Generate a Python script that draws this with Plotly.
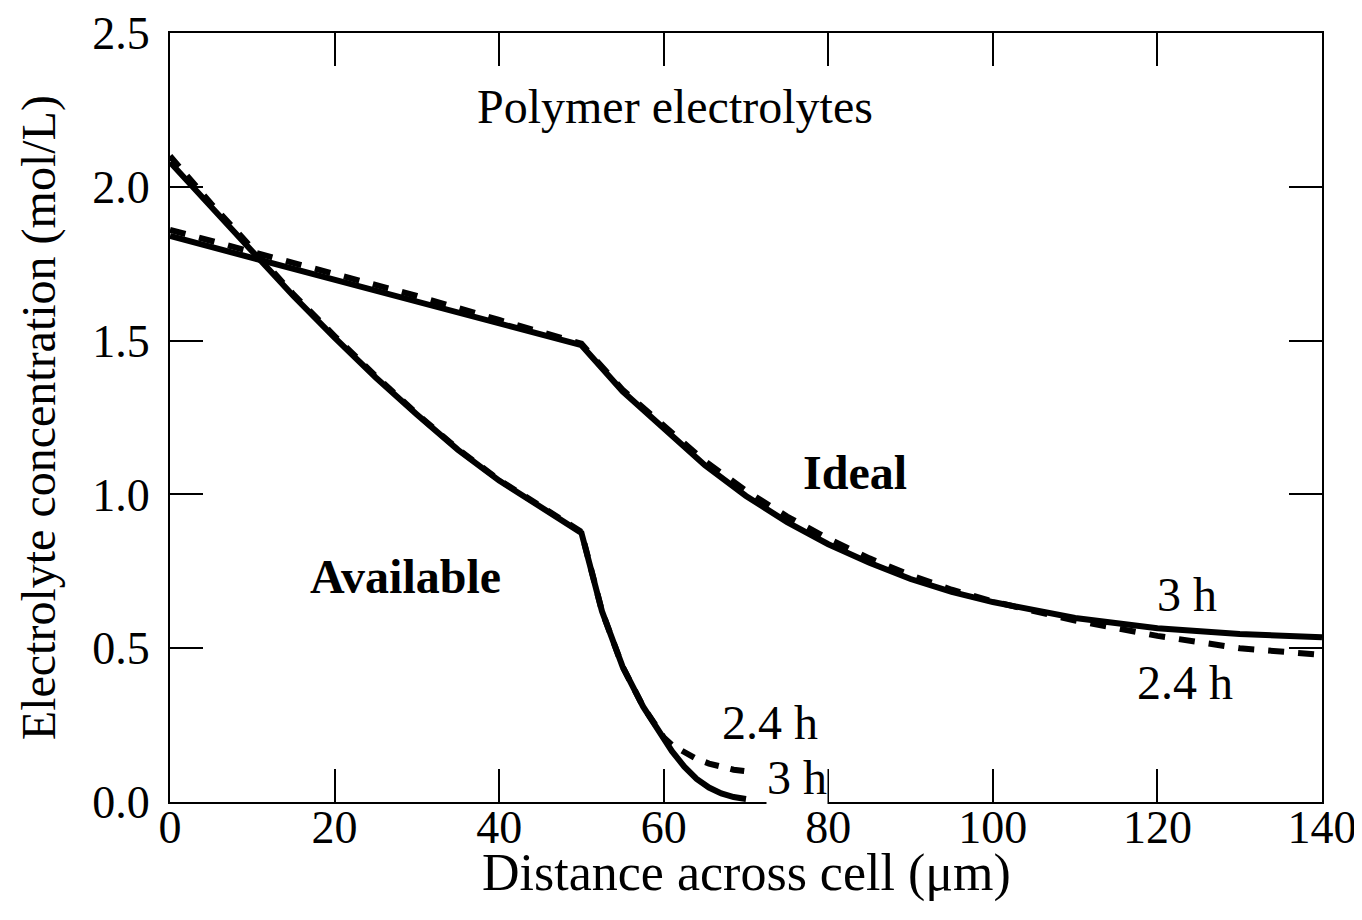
import plotly.graph_objects as go

# Distance across cell (um) and electrolyte concentration (mol/L)
x_ideal = [0, 10, 20, 30, 40, 50, 55, 60, 65, 70, 75, 80, 85, 90, 95, 100, 110, 120, 130, 140]
ideal_3h = [1.84, 1.77, 1.70, 1.625, 1.555, 1.485, 1.335, 1.213, 1.095, 0.995, 0.91, 0.838, 0.778,
            0.725, 0.683, 0.65, 0.598, 0.565, 0.546, 0.536]
ideal_24h = [1.86, 1.79, 1.72, 1.645, 1.567, 1.49, 1.34, 1.222, 1.108, 1.012, 0.928, 0.856, 0.792,
             0.737, 0.69, 0.652, 0.59, 0.54, 0.50, 0.478]

x_avail = [0, 5, 10, 15, 20, 25, 30, 35, 40, 45, 50, 52.5, 55, 57.5, 60, 61, 62.5, 64, 65.5, 67, 68.5, 70]
avail_3h = [2.08, 1.935, 1.79, 1.645, 1.51, 1.38, 1.26, 1.145, 1.045, 0.96, 0.875, 0.62, 0.44, 0.31,
            0.2, 0.165, 0.115, 0.075, 0.047, 0.028, 0.016, 0.01]
avail_24h = [2.10, 1.945, 1.80, 1.65, 1.515, 1.385, 1.262, 1.147, 1.047, 0.962, 0.878, 0.62, 0.44, 0.31,
             0.21, 0.185, 0.16, 0.14, 0.125, 0.115, 0.105, 0.10]

font_name = "Liberation Serif"

fig = go.Figure()

# dashed = 2.4 h, solid = 3 h
fig.add_trace(go.Scatter(x=x_ideal, y=ideal_24h, mode="lines",
                         line=dict(color="black", width=6, dash="16px,14px")))
fig.add_trace(go.Scatter(x=x_avail, y=avail_24h, mode="lines",
                         line=dict(color="black", width=6, dash="14px,12px")))
fig.add_trace(go.Scatter(x=x_ideal, y=ideal_3h, mode="lines",
                         line=dict(color="black", width=6)))
fig.add_trace(go.Scatter(x=x_avail, y=avail_3h, mode="lines",
                         line=dict(color="black", width=6)))

labels = [
    dict(x=61.4, y=2.26, text="Polymer electrolytes", bg=None),
    dict(x=83.2, y=1.07, text="<b>Ideal</b>", bg=None),
    dict(x=28.6, y=0.732, text="<b>Available</b>", bg=None),
    dict(x=123.6, y=0.673, text="3 h", bg=None),
    dict(x=123.3, y=0.387, text="2.4 h", bg=None),
    dict(x=72.9, y=0.26, text="2.4 h", bg=None),
    dict(x=76.2, y=0.081, text="3 h", bg="white"),
]
for a in labels:
    fig.add_annotation(x=a["x"], y=a["y"], text=a["text"], showarrow=False,
                       font=dict(family=font_name, size=48, color="black"),
                       bgcolor=a["bg"] if a["bg"] else "rgba(0,0,0,0)", borderpad=0)

# axis titles
fig.add_annotation(x=0.5, y=-0.092, xref="paper", yref="paper", text="Distance across cell (μm)",
                   showarrow=False, yanchor="middle", font=dict(family=font_name, size=52, color="black"))
fig.add_annotation(x=-0.114, y=0.5, xref="paper", yref="paper", text="Electrolyte concentration (mol/L)",
                   showarrow=False, textangle=-90, xanchor="center",
                   font=dict(family=font_name, size=48, color="black"))

fig.update_layout(
    width=1362, height=920,
    plot_bgcolor="white", paper_bgcolor="white",
    showlegend=False,
    margin=dict(l=162, r=48, t=25, b=126),
    font=dict(family=font_name, size=46, color="black"),
    xaxis=dict(range=[0, 140], tickvals=[0, 20, 40, 60, 80, 100, 120, 140],
               ticks="inside", ticklen=33, tickwidth=1.5, tickcolor="black",
               showline=True, linecolor="black", linewidth=2, mirror="ticks",
               showgrid=False, zeroline=False, automargin=False, ticklabelstandoff=-16),
    yaxis=dict(range=[0, 2.5], tickvals=[0, 0.5, 1.0, 1.5, 2.0, 2.5], tickformat=".1f",
               ticks="inside", ticklen=33, tickwidth=1.5, tickcolor="black",
               showline=True, linecolor="black", linewidth=2, mirror="ticks",
               showgrid=False, zeroline=False, automargin=False, ticklabelstandoff=9),
)

fig.write_html("out.html")
